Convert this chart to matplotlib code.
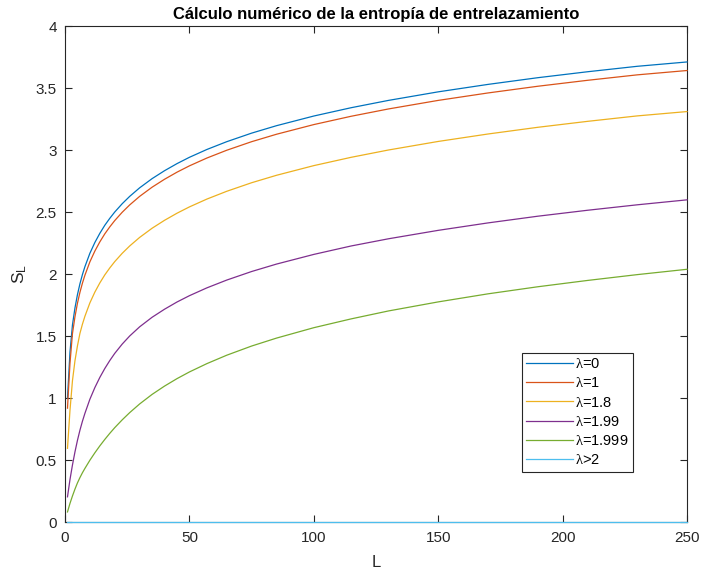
import matplotlib
matplotlib.use("Agg")
import matplotlib.pyplot as plt

plt.rcParams['font.family'] = ['Liberation Sans', 'DejaVu Sans']
plt.rcParams['mathtext.fontset'] = 'custom'
plt.rcParams['mathtext.rm'] = 'Liberation Serif'
plt.rcParams['mathtext.default'] = 'regular'

# Data
L_values = [1, 2, 3, 4, 5, 6, 7, 8, 10, 12, 14, 16, 18, 20, 23, 26, 30, 35, 40, 45,
            50, 57, 65, 75, 85, 100, 115, 130, 150, 170, 190, 210, 230, 250]

S_lambda_0 = [1.000, 1.370, 1.590, 1.726, 1.833, 1.921, 1.995, 2.059, 2.167, 2.254,
              2.328, 2.393, 2.449, 2.500, 2.567, 2.626, 2.695, 2.769, 2.833, 2.890,
              2.941, 3.004, 3.067, 3.136, 3.196, 3.274, 3.341, 3.400, 3.469, 3.529,
              3.583, 3.631, 3.675, 3.710]
S_lambda_1 = [0.918, 1.280, 1.520, 1.655, 1.764, 1.852, 1.926, 1.990, 2.098, 2.185,
              2.259, 2.324, 2.380, 2.431, 2.498, 2.557, 2.626, 2.700, 2.764, 2.821,
              2.872, 2.935, 2.998, 3.067, 3.127, 3.205, 3.272, 3.331, 3.400, 3.460,
              3.514, 3.562, 3.606, 3.641]
S_lambda_18 = [0.594, 0.900, 1.140, 1.300, 1.420, 1.521, 1.595, 1.659, 1.767, 1.854,
               1.928, 1.993, 2.049, 2.100, 2.167, 2.226, 2.295, 2.369, 2.433, 2.490,
               2.541, 2.604, 2.667, 2.736, 2.796, 2.874, 2.941, 3.000, 3.069, 3.129,
               3.183, 3.231, 3.275, 3.310]
S_lambda_199 = [0.203, 0.342, 0.460, 0.565, 0.658, 0.740, 0.812, 0.876, 0.990, 1.084,
                1.166, 1.238, 1.302, 1.360, 1.435, 1.500, 1.574, 1.651, 1.716, 1.774,
                1.825, 1.888, 1.951, 2.020, 2.080, 2.158, 2.226, 2.284, 2.352, 2.412,
                2.466, 2.514, 2.558, 2.598]
S_lambda_1999 = [0.081, 0.150, 0.210, 0.265, 0.315, 0.358, 0.397, 0.432, 0.498, 0.558,
                 0.614, 0.666, 0.715, 0.761, 0.824, 0.882, 0.952, 1.029, 1.096, 1.156,
                 1.210, 1.277, 1.345, 1.419, 1.483, 1.567, 1.638, 1.702, 1.775, 1.840,
                 1.897, 1.948, 1.995, 2.038]
S_lambda_gt2 = [0.0] * len(L_values)

labels = [r'$\mathrm{\lambda}$=0', r'$\mathrm{\lambda}$=1', r'$\mathrm{\lambda}$=1.8',
          r'$\mathrm{\lambda}$=1.99', r'$\mathrm{\lambda}$=1.999', r'$\mathrm{\lambda}$>2']
colors = ['#0072BD', '#D95319', '#EDB120', '#7E2F8E', '#77AC30', '#4DBEEE']
series = [S_lambda_0, S_lambda_1, S_lambda_18, S_lambda_199, S_lambda_1999, S_lambda_gt2]

fig = plt.figure(figsize=(7.02, 5.71), dpi=100)
ax = fig.add_axes([65/702, 1 - 522/571, (687 - 65)/702, (522 - 26)/571])

for y, c, lab in zip(series, colors, labels):
    ax.plot(L_values, y, color=c, linewidth=0.9, label=lab, clip_on=False, zorder=3)

ax.set_xlim(0, 250)
ax.set_ylim(0, 4)
ax.set_xticks([0, 50, 100, 150, 200, 250])
ax.set_yticks([0, 0.5, 1, 1.5, 2, 2.5, 3, 3.5, 4])
ax.set_yticklabels(['0', '0.5', '1', '1.5', '2', '2.5', '3', '3.5', '4'])

dark = '#262626'
for sp in ax.spines.values():
    sp.set_color(dark)
    sp.set_linewidth(0.8)
ax.tick_params(direction='in', length=5, width=0.8, colors=dark, labelsize=11,
               top=True, right=True)
ax.tick_params(axis='x', pad=6.5)
ax.tick_params(axis='y', pad=6)

ax.set_title('Cálculo numérico de la entropía de entrelazamiento', fontsize=12,
             fontweight='bold', color='black', pad=5)
ax.set_xlabel('L', fontsize=12, color=dark, labelpad=7)
ax.set_ylabel('S$_L$', fontsize=12.5, color=dark, labelpad=5)

leg = ax.legend(loc='upper left', bbox_to_anchor=(522/702, 1 - 352.7/571),
                bbox_transform=fig.transFigure, borderaxespad=0, fancybox=False,
                framealpha=1, edgecolor=dark, fontsize=10.5, handlelength=3.2,
                handletextpad=0.15, labelspacing=0.36, borderpad=0.3)
leg.get_frame().set_linewidth(0.8)

fig.savefig('out.png', dpi=100)
